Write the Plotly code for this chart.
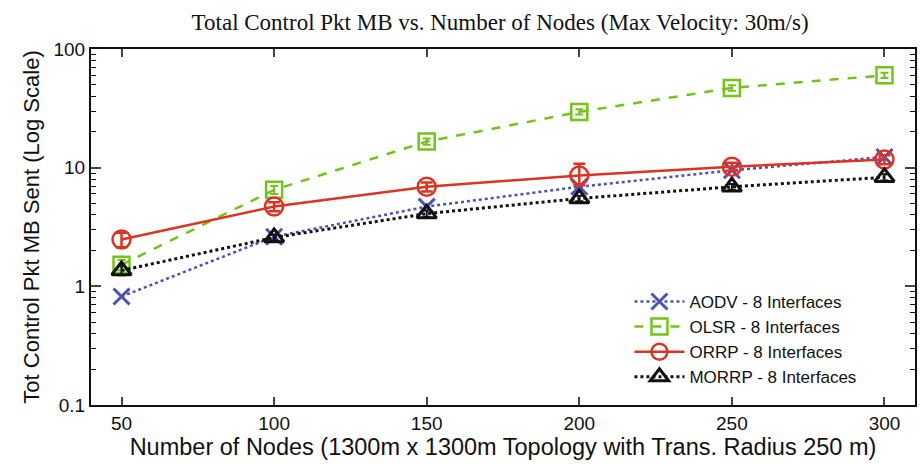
import plotly.graph_objects as go

nodes = [50, 100, 150, 200, 250, 300]
aodv = [0.82, 2.62, 4.7, 6.9, 9.5, 12.3]
olsr = [1.52, 6.5, 16.6, 29.5, 47.0, 60.0]
orrp = [2.48, 4.7, 6.9, 8.6, 10.2, 11.7]
morrp = [1.36, 2.58, 4.1, 5.5, 6.9, 8.3]
orrp_err_up = [0.35, 0.4, 0.6, 2.2, 0.8, 1.0]
orrp_err_dn = [0.35, 0.4, 0.6, 1.5, 0.8, 1.0]
olsr_err = [0.15, 0.5, 1.0, 1.5, 2.5, 3.0]
morrp_err = [0.12, 0.15, 0.25, 0.3, 0.4, 0.5]

names = ["AODV - 8 Interfaces", "OLSR - 8 Interfaces", "ORRP - 8 Interfaces", "MORRP - 8 Interfaces"]
y_tickvals = [0.1, 1, 10, 100]
y_ticktext = ["0.1", "1", "10", "100"]
y_minor = [m * 10 ** e for e in (-1, 0, 1) for m in range(2, 10)]
x_tickvals = [50, 100, 150, 200, 250, 300]

fig = go.Figure()
fig.add_trace(go.Scatter(
    x=nodes, y=aodv, name=names[0], mode="lines+markers",
    line=dict(color="#4b52b6", width=2.5, dash="dot"),
    marker=dict(symbol="x-thin-open", size=16, line=dict(color="#4b52b6", width=3)),
))
fig.add_trace(go.Scatter(
    x=nodes, y=olsr, name=names[1], mode="lines+markers",
    line=dict(color="#72c41a", width=2.5, dash="dash"),
    marker=dict(symbol="square-open", size=16, color="#72c41a", line=dict(color="#72c41a", width=2.5)),
    error_y=dict(type="data", array=olsr_err, color="#72c41a", thickness=2, width=4),
))
fig.add_trace(go.Scatter(
    x=nodes, y=orrp, name=names[2], mode="lines+markers",
    line=dict(color="#dd3322", width=2.5),
    marker=dict(symbol="circle-open", size=18, color="#dd3322", line=dict(color="#dd3322", width=2.5)),
    error_y=dict(type="data", array=orrp_err_up, arrayminus=orrp_err_dn, color="#dd3322", thickness=2.5, width=6),
))
fig.add_trace(go.Scatter(
    x=nodes, y=morrp, name=names[3], mode="lines+markers",
    line=dict(color="#111111", width=3, dash="dot"),
    marker=dict(symbol="triangle-up-open", size=17, color="#111111", line=dict(color="#111111", width=3)),
    error_y=dict(type="data", array=morrp_err, color="#111111", thickness=2, width=4),
))

fig.update_layout(
    width=921, height=465,
    margin=dict(l=91, r=4, t=49, b=60),
    paper_bgcolor="white", plot_bgcolor="white",
    title=dict(text="Total Control Pkt MB vs. Number of Nodes (Max Velocity: 30m/s)",
               x=0.543, xanchor="center", y=0.952, yanchor="middle",
               font=dict(family="Liberation Serif", size=23, color="#111")),
    font=dict(family="Liberation Sans", color="#111"),
    showlegend=True,
    legend=dict(x=0.935, xanchor="right", y=0.34, yanchor="top",
                bgcolor="rgba(255,255,255,0)", font=dict(size=17, family="Liberation Sans"),
                tracegroupgap=0, itemwidth=50),
)
fig.update_xaxes(
    range=[40, 310], tickvals=x_tickvals, ticks="inside", ticklen=8, tickwidth=1.5,
    showline=True, linecolor="#111", linewidth=2, mirror="allticks", showgrid=False, zeroline=False,
    tickfont=dict(size=19, family="Liberation Sans"),
    title=dict(text="Number of Nodes (1300m x 1300m Topology with Trans. Radius 250 m)",
               font=dict(size=23.5, family="Liberation Sans"), standoff=6),
)
fig.update_yaxes(
    type="log", range=[-1, 2], tickvals=y_tickvals, ticktext=y_ticktext,
    ticks="inside", ticklen=10, tickwidth=1.5,
    minor=dict(tickvals=y_minor, ticks="inside", ticklen=5, tickwidth=1.2, tickcolor="#111", showgrid=False),
    showline=True, linecolor="#111", linewidth=2, mirror="allticks", showgrid=False, zeroline=False,
    tickfont=dict(size=19, family="Liberation Sans"),
    title=dict(text="Tot Control Pkt MB Sent (Log Scale)",
               font=dict(size=22, family="Liberation Sans"), standoff=8),
)

fig.write_html("out.html")
